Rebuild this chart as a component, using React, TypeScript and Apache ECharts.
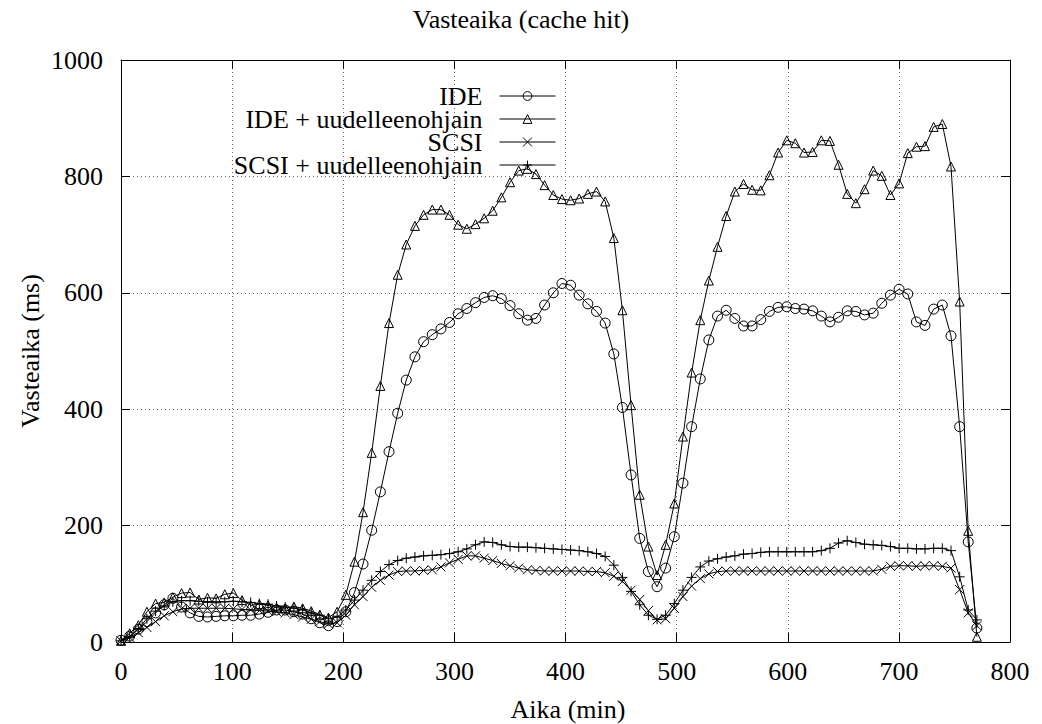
import React, { useEffect, useRef } from "react";
import * as echarts from "echarts";

const times = [
  0, 7.8, 15.6, 23.3, 31.1, 38.9, 46.7, 54.5, 62.2, 70.0,
  77.8, 85.6, 93.4, 101.1, 108.9, 116.7, 124.5, 132.3, 140.0, 147.8,
  155.6, 163.4, 171.2, 178.9, 186.7, 194.5, 202.3, 210.1, 217.8, 225.6,
  233.4, 241.2, 249.0, 256.7, 264.5, 272.3, 280.1, 287.9, 295.6, 303.4,
  311.2, 319.0, 326.8, 334.5, 342.3, 350.1, 357.9, 365.7, 373.4, 381.2,
  389.0, 396.8, 404.6, 412.3, 420.1, 427.9, 435.7, 443.5, 451.2, 459.0,
  466.8, 474.6, 482.4, 490.1, 497.9, 505.7, 513.5, 521.3, 529.0, 536.8,
  544.6, 552.4, 560.2, 567.9, 575.7, 583.5, 591.3, 599.1, 606.8, 614.6,
  622.4, 630.2, 638.0, 645.7, 653.5, 661.3, 669.1, 676.9, 684.6, 692.4,
  700.2, 708.0, 715.8, 723.5, 731.3, 739.1, 746.9, 754.7, 762.4, 770.2,
];

const ide = [
  3, 10, 22, 35, 50, 64, 75, 60, 50, 44,
  43, 44, 45, 45, 46, 46, 48, 51, 55, 55,
  52, 48, 40, 33, 28, 35, 52, 85, 134, 192,
  258, 327, 393, 450, 490, 516, 528, 538, 549, 564,
  573, 583, 592, 595, 590, 578, 564, 553, 556, 579,
  600, 616, 613, 596, 581, 568, 548, 495, 403, 287,
  178, 121, 95, 127, 181, 273, 370, 452, 519, 560,
  570, 556, 543, 543, 554, 568, 575, 576, 573, 572,
  569, 560, 550, 558, 569, 568, 562, 565, 582, 596,
  606, 598, 550, 544, 572, 579, 526, 370, 172, 24,
];

const ideRedir = [
  2, 15, 29, 52, 66, 68, 77, 84, 85, 73,
  76, 75, 82, 84, 72, 63, 65, 63, 59, 58,
  61, 58, 53, 47, 42, 52, 81, 138, 223, 325,
  440, 548, 631, 683, 715, 734, 743, 743, 734, 717,
  710, 718, 728, 741, 764, 790, 810, 813, 804, 785,
  768, 761, 759, 762, 770, 774, 757, 694, 570, 407,
  253, 164, 115, 167, 238, 353, 463, 553, 621, 679,
  732, 774, 787, 777, 776, 802, 841, 862, 857, 841,
  842, 862, 861, 820, 770, 754, 778, 810, 801, 768,
  788, 840, 851, 852, 885, 890, 817, 585, 191, 9,
];

const scsi = [
  2, 8, 16, 25, 35, 45, 52, 57, 58, 58,
  58, 58, 58, 57, 56, 55, 54, 53, 52, 50,
  47, 43, 39, 35, 31, 33, 46, 64, 78, 94,
  106, 115, 121, 122, 122, 123, 124, 129, 136, 142,
  148, 148, 144, 140, 135, 131, 127, 124, 123, 122,
  122, 122, 122, 122, 121, 121, 119, 113, 104, 89,
  73, 54, 38, 40, 58, 78, 96, 109, 117, 121,
  122, 122, 122, 122, 122, 122, 122, 122, 122, 122,
  122, 122, 122, 122, 122, 122, 122, 122, 125, 130,
  131, 131, 130, 131, 131, 130, 127, 90, 50, 28,
];

const scsiRedir = [
  2, 9, 23, 40, 53, 62, 69, 71, 71, 70,
  69, 69, 69, 70, 69, 68, 66, 65, 62, 60,
  58, 55, 50, 46, 40, 43, 55, 72, 89, 106,
  121, 133, 140, 144, 146, 148, 149, 150, 152, 155,
  160, 167, 172, 171, 167, 164, 163, 163, 162, 161,
  160, 159, 158, 157, 155, 152, 147, 132, 111, 87,
  64, 46, 39, 46, 66, 89, 111, 129, 139, 143,
  146, 148, 151, 152, 154, 155, 155, 155, 155, 155,
  155, 157, 161, 170, 174, 171, 168, 167, 166, 164,
  161, 161, 160, 160, 161, 161, 157, 112, 55, 38,
];

const seriesNames = ["IDE", "IDE + uudelleenohjain", "SCSI", "SCSI + uudelleenohjain"];
const xTicks = [0, 100, 200, 300, 400, 500, 600, 700, 800];
const yTicks = [0, 200, 400, 600, 800, 1000];

const FONT = "Liberation Serif";
const SYM_CIRCLE = "path://M9,4.5A4.5,4.5,0,1,1,0,4.5A4.5,4.5,0,1,1,9,4.5Z";
const SYM_TRI = "path://M4.5,0L9,8L0,8Z";
const SYM_CROSS = "path://M0,0L9,9M9,0L0,9";
const SYM_PLUS = "path://M4.5,0L4.5,9M0,4.5L9,4.5";

function pairs(vals: number[]) {
  return times.map((t, i) => [t, vals[i]]);
}

export default function App() {
  const ref = useRef<HTMLDivElement>(null);
  useEffect(() => {
    if (!ref.current) return;
    const chart = echarts.init(ref.current, undefined, { renderer: "svg" });
    const mk = (name: string, vals: number[], symbol: string, size: number) => ({
      name,
      type: "line",
      data: pairs(vals),
      symbol,
      symbolSize: size,
      showAllSymbol: true,
      lineStyle: { color: "#000", width: 1 },
      itemStyle: { color: "rgba(0,0,0,0)", borderColor: "#000", borderWidth: 1 },
      emphasis: { disabled: true },
      z: 3,
    });
    const axisCommon = {
      type: "value",
      axisLine: { show: true, onZero: false, lineStyle: { color: "#000", width: 1 } },
      axisTick: { show: true, inside: true, length: 9, lineStyle: { color: "#000", width: 1 } },
    };
    const fmt = (v: number) => String(v);
    chart.setOption({
      animation: false,
      backgroundColor: "#fff",
      textStyle: { fontFamily: FONT },
      grid: { left: 121, top: 60, right: 32, bottom: 82, containLabel: false },
      xAxis: [
        {
          ...axisCommon,
          position: "bottom",
          min: xTicks[0],
          max: xTicks[xTicks.length - 1],
          interval: 100,
          axisLabel: { show: true, margin: 16, color: "#000", fontSize: 26, fontFamily: FONT, formatter: fmt },
          splitLine: { show: true, lineStyle: { color: "#666", type: [1, 3], width: 1 } },
        },
        {
          ...axisCommon,
          position: "top",
          min: xTicks[0],
          max: xTicks[xTicks.length - 1],
          interval: 100,
          axisLabel: { show: false },
          splitLine: { show: false },
        },
      ],
      yAxis: [
        {
          ...axisCommon,
          position: "left",
          min: yTicks[0],
          max: yTicks[yTicks.length - 1],
          interval: 200,
          axisLabel: { show: true, margin: 18, color: "#000", fontSize: 26, fontFamily: FONT, formatter: fmt },
          splitLine: { show: true, lineStyle: { color: "#666", type: [1, 3], width: 1 } },
        },
        {
          ...axisCommon,
          position: "right",
          min: yTicks[0],
          max: yTicks[yTicks.length - 1],
          interval: 200,
          axisLabel: { show: false },
          splitLine: { show: false },
        },
      ],
      legend: {
        orient: "vertical",
        right: 486,
        top: 83,
        align: "right",
        itemWidth: 56,
        itemHeight: 11,
        itemGap: -3,
        padding: 0,
        selectedMode: false,
        textStyle: { color: "#000", fontSize: 26, fontFamily: FONT, padding: [0, 12, 0, 0] },
        itemStyle: { color: "rgba(0,0,0,0)", borderColor: "#000", borderWidth: 1 },
        lineStyle: { color: "#000", width: 1 },
        data: seriesNames,
      },
      graphic: [
        {
          type: "text",
          x: 521,
          y: 19,
          style: { text: "Vasteaika (cache hit)", fill: "#000", fontSize: 26, fontFamily: FONT, align: "center", verticalAlign: "middle" },
        },
        {
          type: "text",
          x: 568,
          y: 709,
          style: { text: "Aika (min)", fill: "#000", fontSize: 26, fontFamily: FONT, align: "center", verticalAlign: "middle" },
        },
        {
          type: "text",
          x: 30,
          y: 351,
          rotation: Math.PI / 2,
          style: { text: "Vasteaika (ms)", fill: "#000", fontSize: 26, fontFamily: FONT, align: "center", verticalAlign: "middle" },
        },
      ],
      series: [
        mk(seriesNames[0], ide, SYM_CIRCLE, 10),
        mk(seriesNames[1], ideRedir, SYM_TRI, 9),
        mk(seriesNames[2], scsi, SYM_CROSS, 9),
        mk(seriesNames[3], scsiRedir, SYM_PLUS, 10),
      ],
    });
    return () => chart.dispose();
  }, []);
  return <div ref={ref} style={{ position: "absolute", left: 0, top: 0, width: 1042, height: 724 }} />;
}
